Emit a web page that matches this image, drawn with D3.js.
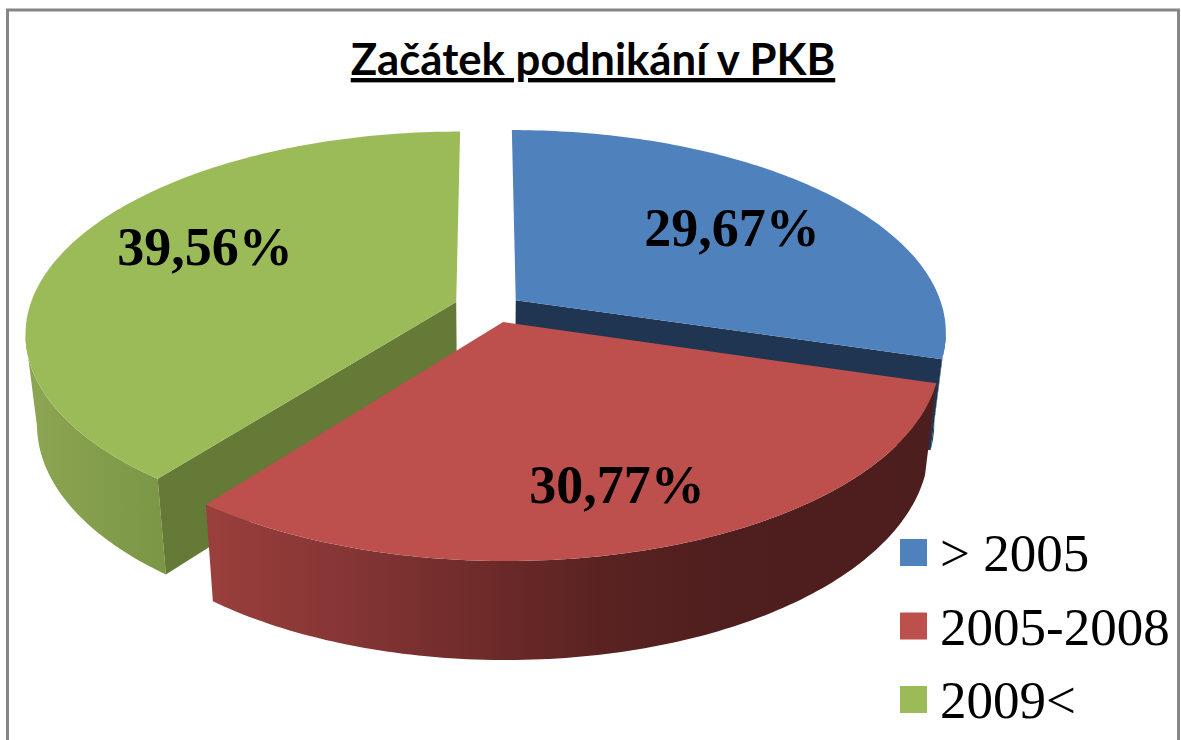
<!DOCTYPE html>
<html>
<head>
<meta charset="utf-8">
<title>Začátek podnikání v PKB</title>
<script src="https://cdn.jsdelivr.net/npm/d3@7"></script>
<style>
    html, body { margin: 0; padding: 0; background: #fff; overflow: hidden; }
    svg { display: block; }
    .pctLabel { font-family: "Liberation Serif", serif; font-weight: bold; font-size: 54px; fill: #000; }
    .legendLabel { font-family: "Liberation Serif", serif; font-size: 53px; fill: #000; }
    .chartTitle { font-family: Lato, sans-serif; font-weight: bold; font-size: 43.7px; fill: #000; text-decoration: underline; }
</style>
</head>
<body>
<script>
//chart data
var titleText = "Začátek podnikání v PKB";
var categories = ["> 2005", "2005-2008", "2009<"];
var shares = [29.67, 30.77, 39.56];
var shareLabels = ["29,67%", "30,77%", "39,56%"];
var topColors = ["#4f81bd", "#bd4f4c", "#9bbb59"];
var wallColors = ["#1f3552", "url(#redWall)", "url(#greenWall)"];
var cutColors = ["#1f3552", "#4d1e1e", "#667a38"];

(function(){

    //frame dimensions
    var width = 1181,
        height = 740;

    //pseudo-3d view of the pie, fitted on the picture
    var view = {cx: 486, cy: 311, rx: 428, ry: 199, persp: 0.152, shrink: 0.975, depth: 89, depthGrow: 0.04};

    //explosion of each slice, x in pixels, v as part of ry
    var explode = [[30, -0.055], [17, 0.055], [-30, -0.045]];

    //which cut of each slice faces the viewer (red shows none)
    var facingCut = ["endAngle", null, "startAngle"];

    //label centres and baselines
    var labelPos = [[732, 246], [617, 503], [205, 265]];

    var map = d3.select("body")
        .append("svg")
        .attr("width", width)
        .attr("height", height);

    setGradients(map);

    //chart frame, the lower edge falls off the picture
    map.append("rect")
        .attr("x", 7.5)
        .attr("y", 10)
        .attr("width", 1171)
        .attr("height", 760)
        .attr("fill", "#fff")
        .attr("stroke", "#868686")
        .attr("stroke-width", 3);

    map.append("text")
        .attr("class", "chartTitle")
        .attr("x", 593)
        .attr("y", 75)
        .attr("text-anchor", "middle")
        .text(titleText);

    //angles come from d3.pie, clockwise from the top
    var slices = d3.pie().sort(null)(shares);

    //blue first, then green, red lies on top of both
    [0, 2, 1].forEach(function(i){
        drawSlice(slices[i], i);
    });

    labelPos.forEach(function(p, i){
        map.append("text")
            .attr("class", "pctLabel")
            .attr("x", p[0])
            .attr("y", p[1])
            .attr("text-anchor", "middle")
            .text(shareLabels[i]);
    });

    setLegend();

    //project a disc point onto the top face
    function projectTop(i, angle, radius){
        var wx = explode[i][0] + view.rx * radius * Math.sin(angle),
            wv = explode[i][1] - radius * Math.cos(angle),
            s = 1 / (1 - view.persp * wv);
        return [view.cx + wx * s, view.cy + view.ry * wv * s];
    };

    //same point on the bottom face
    function projectBottom(i, angle, radius){
        var p = projectTop(i, angle, radius);
        return [view.cx + (p[0] - view.cx) * view.shrink,
            p[1] + view.depth + view.depthGrow * (p[1] - view.cy)];
    };

    function rimAngles(slice){
        var n = Math.ceil((slice.endAngle - slice.startAngle) * 60);
        return d3.range(n + 1).map(function(k){
            return slice.startAngle + (slice.endAngle - slice.startAngle) * k / n;
        });
    };

    function drawSlice(slice, i){
        var line = d3.line();
        var rim = rimAngles(slice);
        var topRim = rim.map(function(a){ return projectTop(i, a, 1); });

        //outer wall, only the part of the rim in front of the silhouette
        var frontRim = rim.filter(function(a){
            return -Math.cos(a) >= view.persp;
        });
        var wallTop = frontRim.map(function(a){ return projectTop(i, a, 1); });
        var wallBottom = frontRim.map(function(a){ return projectBottom(i, a, 1); }).reverse();
        map.append("path")
            .attr("d", line(wallTop.concat(wallBottom)) + "Z")
            .attr("fill", wallColors[i]);

        //the cut wall that faces the viewer
        if (facingCut[i]){
            var a = slice[facingCut[i]];
            var wall = [projectTop(i, a, 0), projectTop(i, a, 1), projectBottom(i, a, 1), projectBottom(i, a, 0)];
            map.append("path")
                .attr("d", line(wall) + "Z")
                .attr("fill", cutColors[i]);
        };

        //top face
        map.append("path")
            .attr("d", line([projectTop(i, 0, 0)].concat(topRim)) + "Z")
            .attr("fill", topColors[i]);
    };

    function setGradients(svg){
        var defs = svg.append("defs");
        addGradient(defs, "redWall", 207, 930, [
            [0, "#9a3f3c"], [0.2, "#843534"], [0.38, "#6e2b2a"], [0.54, "#5a2322"], [0.72, "#4f1e1e"], [1, "#4d1e1e"]
        ]);
        addGradient(defs, "greenWall", 25, 163, [
            [0, "#8ca653"], [1, "#7b9645"]
        ]);
    };

    function addGradient(defs, id, x1, x2, stops){
        var grad = defs.append("linearGradient")
            .attr("id", id)
            .attr("gradientUnits", "userSpaceOnUse")
            .attr("x1", x1)
            .attr("x2", x2)
            .attr("y1", 0)
            .attr("y2", 0);
        stops.forEach(function(s){
            grad.append("stop")
                .attr("offset", s[0])
                .attr("stop-color", s[1]);
        });
    };

    function setLegend(){
        var legendY = d3.scalePoint()
            .domain(categories)
            .range([539, 686]);

        var rows = map.selectAll(".legendRow")
            .data(categories)
            .enter()
            .append("g")
            .attr("class", "legendRow")
            .attr("transform", function(d){
                return "translate(900," + legendY(d) + ")";
            });

        rows.append("rect")
            .attr("width", 27)
            .attr("height", 27)
            .attr("fill", function(d, i){ return topColors[i]; });

        rows.append("text")
            .attr("class", "legendLabel")
            .attr("x", 40)
            .attr("y", 32)
            .text(function(d){ return d; });
    };

})();
</script>
</body>
</html>
